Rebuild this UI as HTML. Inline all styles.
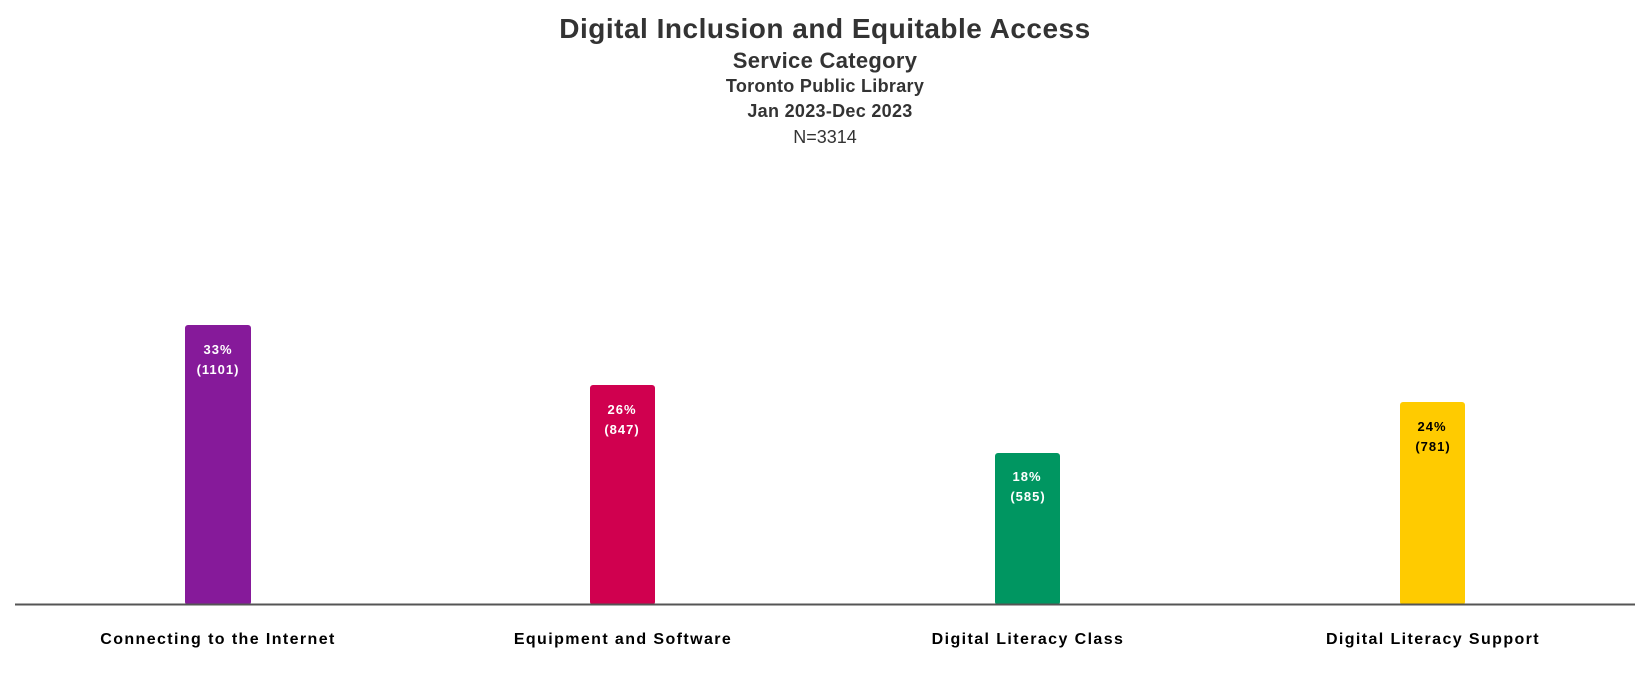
<!DOCTYPE html>
<html><head><meta charset="utf-8"><style>
body{margin:0;background:#fff;}
svg{display:block;font-family:"Liberation Sans",sans-serif;}
</style></head><body>
<svg width="1650" height="675" xmlns="http://www.w3.org/2000/svg">
<g fill="#333" text-anchor="middle" font-weight="bold">
<text x="825" y="38" font-size="28" letter-spacing="0.5">Digital Inclusion and Equitable Access</text>
<text x="825" y="68" font-size="22" letter-spacing="0.3">Service Category</text>
<text x="825" y="92" font-size="18" letter-spacing="0.3">Toronto Public Library</text>
<text x="830" y="117" font-size="18" letter-spacing="0.3">Jan 2023-Dec 2023</text>
<text x="825" y="143" font-size="18" font-weight="normal">N=3314</text>
</g>
<rect x="185" y="325" width="66" height="280" rx="3" fill="#861a9a"/>
<rect x="590" y="385" width="65" height="220" rx="3" fill="#d0004f"/>
<rect x="995" y="453" width="65" height="152" rx="3" fill="#009661"/>
<rect x="1400" y="402" width="65" height="203" rx="3" fill="#ffcb00"/>
<line x1="15" y1="604.5" x2="1635" y2="604.5" stroke="#555" stroke-width="2"/>
<g font-size="13" font-weight="bold" text-anchor="middle" fill="#fff" letter-spacing="1">
<text x="218" y="354">33%</text><text x="218" y="374">(1101)</text>
<text x="622" y="414">26%</text><text x="622" y="434">(847)</text>
<text x="1027" y="481">18%</text><text x="1028" y="501">(585)</text>
<text x="1432" y="431" fill="#000">24%</text><text x="1433" y="451" fill="#000">(781)</text>
</g>
<g font-size="16" font-weight="bold" text-anchor="middle" fill="#000" letter-spacing="1.4">
<text x="218" y="644">Connecting to the Internet</text>
<text x="623" y="644">Equipment and Software</text>
<text x="1028" y="644">Digital Literacy Class</text>
<text x="1433" y="644">Digital Literacy Support</text>
</g>
</svg>
</body></html>
